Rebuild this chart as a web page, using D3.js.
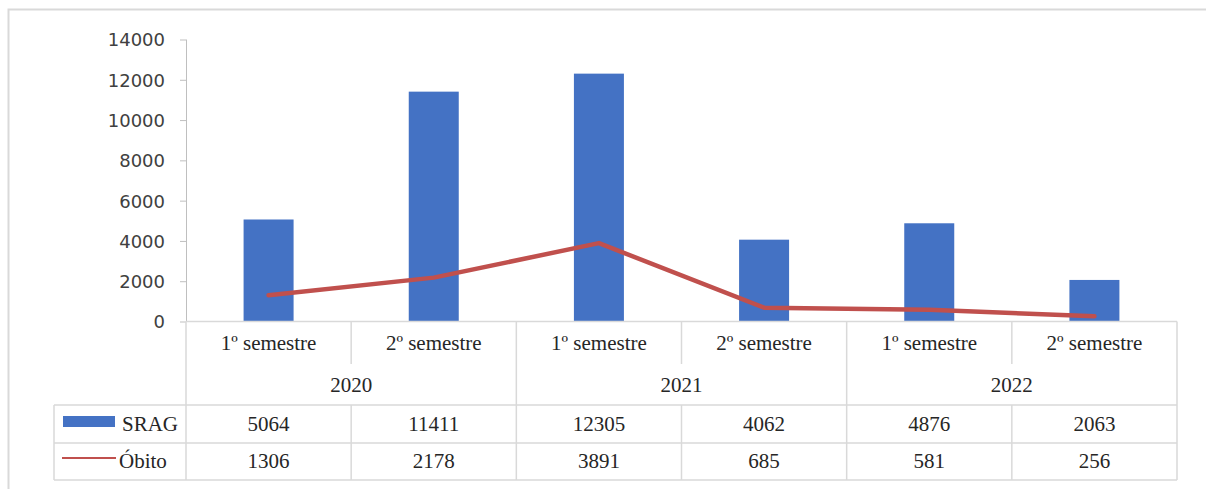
<!DOCTYPE html>
<html>
<head>
<meta charset="utf-8">
<script src="https://cdn.jsdelivr.net/npm/d3@7"></script>
<style>
  body { margin: 0; background: #fff; }
  .tick text { font-family: "DejaVu Sans", sans-serif; font-size: 18px; fill: #404040; }
  .tbl { font-family: "Liberation Serif", "Times New Roman", serif; font-size: 21px; fill: #262626; }
</style>
</head>
<body>
<script>
// data
var semesters = ["1º semestre", "2º semestre", "1º semestre", "2º semestre", "1º semestre", "2º semestre"];
var years = ["2020", "2021", "2022"];
var srag = [5064, 11411, 12305, 4062, 4876, 2063];
var obito = [1306, 2178, 3891, 685, 581, 256];
var yTicks = [0, 2000, 4000, 6000, 8000, 10000, 12000, 14000];

var width = 1206, height = 489;
var plot = {left: 186, right: 1177, top: 39.5, bottom: 321.5};
var rows = {cat: 364, year: 405, s: 443, o: 480};
var legendLeft = 54;
var gridColor = "#d9d9d9";

var svg = d3.select("body").append("svg")
  .attr("width", width)
  .attr("height", height);

// outer frame
svg.append("rect")
  .attr("x", 8.5).attr("y", 9.5)
  .attr("width", 1220).attr("height", 500)
  .style("fill", "none")
  .style("stroke", gridColor)
  .style("stroke-width", 2);

var idx = d3.range(srag.length);

var x = d3.scaleBand()
  .domain(idx)
  .range([plot.left, plot.right]);

var y = d3.scaleLinear()
  .domain([0, 14000])
  .range([plot.bottom, plot.top]);

// y axis
var yAxis = svg.append("g")
  .attr("transform", "translate(" + plot.left + ",0)")
  .call(d3.axisLeft(y).tickValues(yTicks).tickSize(6).tickPadding(15).tickFormat(d3.format("d")));
yAxis.selectAll("line, path").style("stroke", "#bfbfbf");
yAxis.select(".domain").attr("d", "M0.5," + plot.top + "V" + plot.bottom);
yAxis.selectAll(".tick text").attr("dy", "0.36em");

// bars
var barW = 50;
svg.append("g").selectAll("rect")
  .data(idx)
  .enter()
  .append("rect")
  .attr("x", d => x(d) + x.bandwidth() / 2 - barW / 2)
  .attr("y", d => y(srag[d]))
  .attr("width", barW)
  .attr("height", d => y(0) - y(srag[d]))
  .style("fill", "#4472c4");

// deaths line
var line = d3.line()
  .x(d => x(d) + x.bandwidth() / 2)
  .y(d => y(obito[d]));

svg.append("path")
  .datum(idx)
  .attr("d", line)
  .style("fill", "none")
  .style("stroke", "#c0504d")
  .style("stroke-width", 4.5)
  .style("stroke-linejoin", "round")
  .style("stroke-linecap", "round");

// data table
var tbl = svg.append("g")
  .style("stroke", gridColor)
  .style("stroke-width", 1.5);

function hline(x1, x2, yy) {
  tbl.append("line").attr("x1", x1).attr("x2", x2).attr("y1", yy).attr("y2", yy);
}
function vline(xx, y1, y2) {
  tbl.append("line").attr("x1", xx).attr("x2", xx).attr("y1", y1).attr("y2", y2);
}

hline(plot.left, plot.right, plot.bottom);
hline(legendLeft, plot.right, rows.year);
hline(legendLeft, plot.right, rows.s);
hline(legendLeft, plot.right, rows.o);
vline(legendLeft, rows.year, rows.o);

idx.concat([idx.length]).forEach(function(i) {
  var xx = i < idx.length ? x(i) : plot.right;
  var yearEdge = (i % 2 === 0);
  vline(xx, plot.bottom, yearEdge ? rows.o : rows.cat);
  if (!yearEdge) vline(xx, rows.year, rows.o);
});

var texts = svg.append("g").attr("class", "tbl").attr("text-anchor", "middle");

texts.selectAll(".sem")
  .data(idx)
  .enter().append("text")
  .attr("class", "tbl")
  .attr("x", d => x(d) + x.bandwidth() / 2)
  .attr("y", 350)
  .text(d => semesters[d]);

texts.selectAll(".yr")
  .data(years)
  .enter().append("text")
  .attr("class", "tbl")
  .attr("x", (d, i) => x(i * 2) + x.bandwidth())
  .attr("y", 392)
  .text(d => d);

texts.selectAll(".sv")
  .data(idx)
  .enter().append("text")
  .attr("class", "tbl")
  .attr("x", d => x(d) + x.bandwidth() / 2)
  .attr("y", 431)
  .text(d => srag[d]);

texts.selectAll(".ov")
  .data(idx)
  .enter().append("text")
  .attr("class", "tbl")
  .attr("x", d => x(d) + x.bandwidth() / 2)
  .attr("y", 468)
  .text(d => obito[d]);

// legend keys
svg.append("rect")
  .attr("x", 63).attr("y", 416)
  .attr("width", 52).attr("height", 11)
  .style("fill", "#4472c4");
svg.append("text").attr("class", "tbl")
  .attr("x", 122).attr("y", 431)
  .text("SRAG");

svg.append("line")
  .attr("x1", 62).attr("x2", 116)
  .attr("y1", 458).attr("y2", 458)
  .style("stroke", "#c0504d")
  .style("stroke-width", 2);
svg.append("text").attr("class", "tbl")
  .attr("x", 119).attr("y", 468)
  .text("Óbito");
</script>
</body>
</html>
